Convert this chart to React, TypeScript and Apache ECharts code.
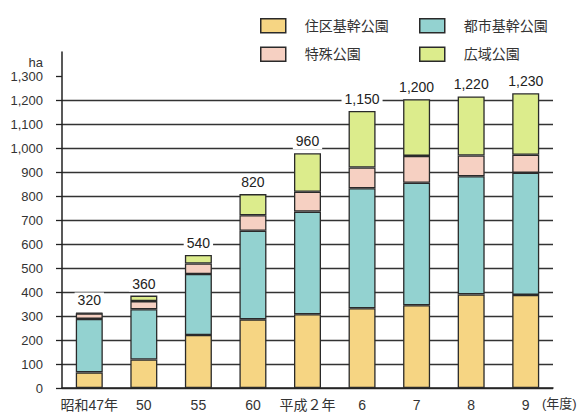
import React, { useEffect, useRef } from "react";
import * as echarts from "echarts";

const categories = ["昭和47年", "50", "55", "60", "平成２年", "6", "7", "8", "9"];
const residentialParks = [65, 119, 221, 286, 307, 332, 345, 390, 388];
const cityParks = [223, 209, 254, 369, 428, 500, 510, 492, 509];
const specialParks = [23, 34, 44, 65, 83, 87, 112, 87, 75];
const regionalParks = [2, 23, 35, 88, 160, 235, 236, 246, 256];
const totalLabels = ["320", "360", "540", "820", "960", "1,150", "1,200", "1,220", "1,230"];
const yTicks = [0, 100, 200, 300, 400, 500, 600, 700, 800, 900, 1000, 1100, 1200, 1300];

const FONT = "'Liberation Sans', 'Noto Sans CJK JP', sans-serif";
const BORDER = "#2a2a2a";

export default function App() {
  const ref = useRef<HTMLDivElement>(null);
  useEffect(() => {
    if (!ref.current) return;
    const chart = echarts.init(ref.current, undefined, { renderer: "svg" });
    const mk = (name: string, data: number[], color: string, extra: any = {}) => ({
      name,
      type: "bar",
      stack: "total",
      data,
      barWidth: 27,
      itemStyle: { color, borderColor: BORDER, borderWidth: 1.3 },
      ...extra,
    });
    const legendBase = {
      orient: "vertical",
      top: 13,
      itemWidth: 25,
      itemHeight: 14,
      itemGap: 13,
      icon: "rect",
      itemStyle: { borderColor: BORDER, borderWidth: 1.5 },
      textStyle: { fontSize: 14, color: "#333", fontFamily: FONT, padding: [0, 0, 0, 14] },
      selectedMode: false,
    };
    chart.setOption({
      animation: false,
      backgroundColor: "#fff",
      textStyle: { fontFamily: FONT },
      grid: { left: 62, right: 34, top: 52, bottom: 24 },
      legend: [
        { ...legendBase, left: 255, data: ["住区基幹公園", "特殊公園"] },
        { ...legendBase, left: 414, data: ["都市基幹公園", "広域公園"] },
      ],
      xAxis: {
        type: "category",
        data: categories,
        axisLine: { lineStyle: { color: "#222", width: 1.5 } },
        axisTick: { show: false },
        axisLabel: { interval: 0, fontSize: 14, color: "#333", margin: 10, fontFamily: FONT },
      },
      yAxis: {
        type: "value",
        min: 0,
        max: 1400,
        interval: 100,
        axisLine: { show: true, lineStyle: { color: "#222", width: 1.5 } },
        axisTick: { show: true, length: 6, customValues: yTicks, lineStyle: { color: "#222", width: 1.3 } },
        axisLabel: {
          customValues: yTicks,
          fontSize: 13,
          color: "#333",
          margin: 19,
          fontFamily: FONT,
          formatter: (v: number) => v.toLocaleString("en-US"),
        },
        splitLine: { show: true, showMaxLine: false, lineStyle: { color: "#333", width: 1.4 } },
      },
      graphic: [
        { type: "text", x: 43, y: 62, style: { text: "ha", fill: "#333", textAlign: "right", textVerticalAlign: "middle", font: `13px ${FONT}` } },
        { type: "text", x: 542, y: 403, style: { text: "(年度)", fill: "#333", textVerticalAlign: "middle", font: `13px ${FONT}` } },
      ],
      series: [
        mk("住区基幹公園", residentialParks, "#f6d583"),
        mk("都市基幹公園", cityParks, "#93d2d0"),
        mk("特殊公園", specialParks, "#f6d0c2"),
        mk("広域公園", regionalParks, "#dcec8c", {
          label: {
            show: true,
            position: "top",
            distance: 4,
            formatter: (p: any) => totalLabels[p.dataIndex],
            fontSize: 14,
            color: "#222",
            fontFamily: FONT,
            backgroundColor: "#fff",
            padding: [1, 3],
          },
        }),
      ],
    });
    return () => chart.dispose();
  }, []);
  return <div ref={ref} style={{ width: 587, height: 412, position: "absolute", left: 0, top: 0 }} />;
}
